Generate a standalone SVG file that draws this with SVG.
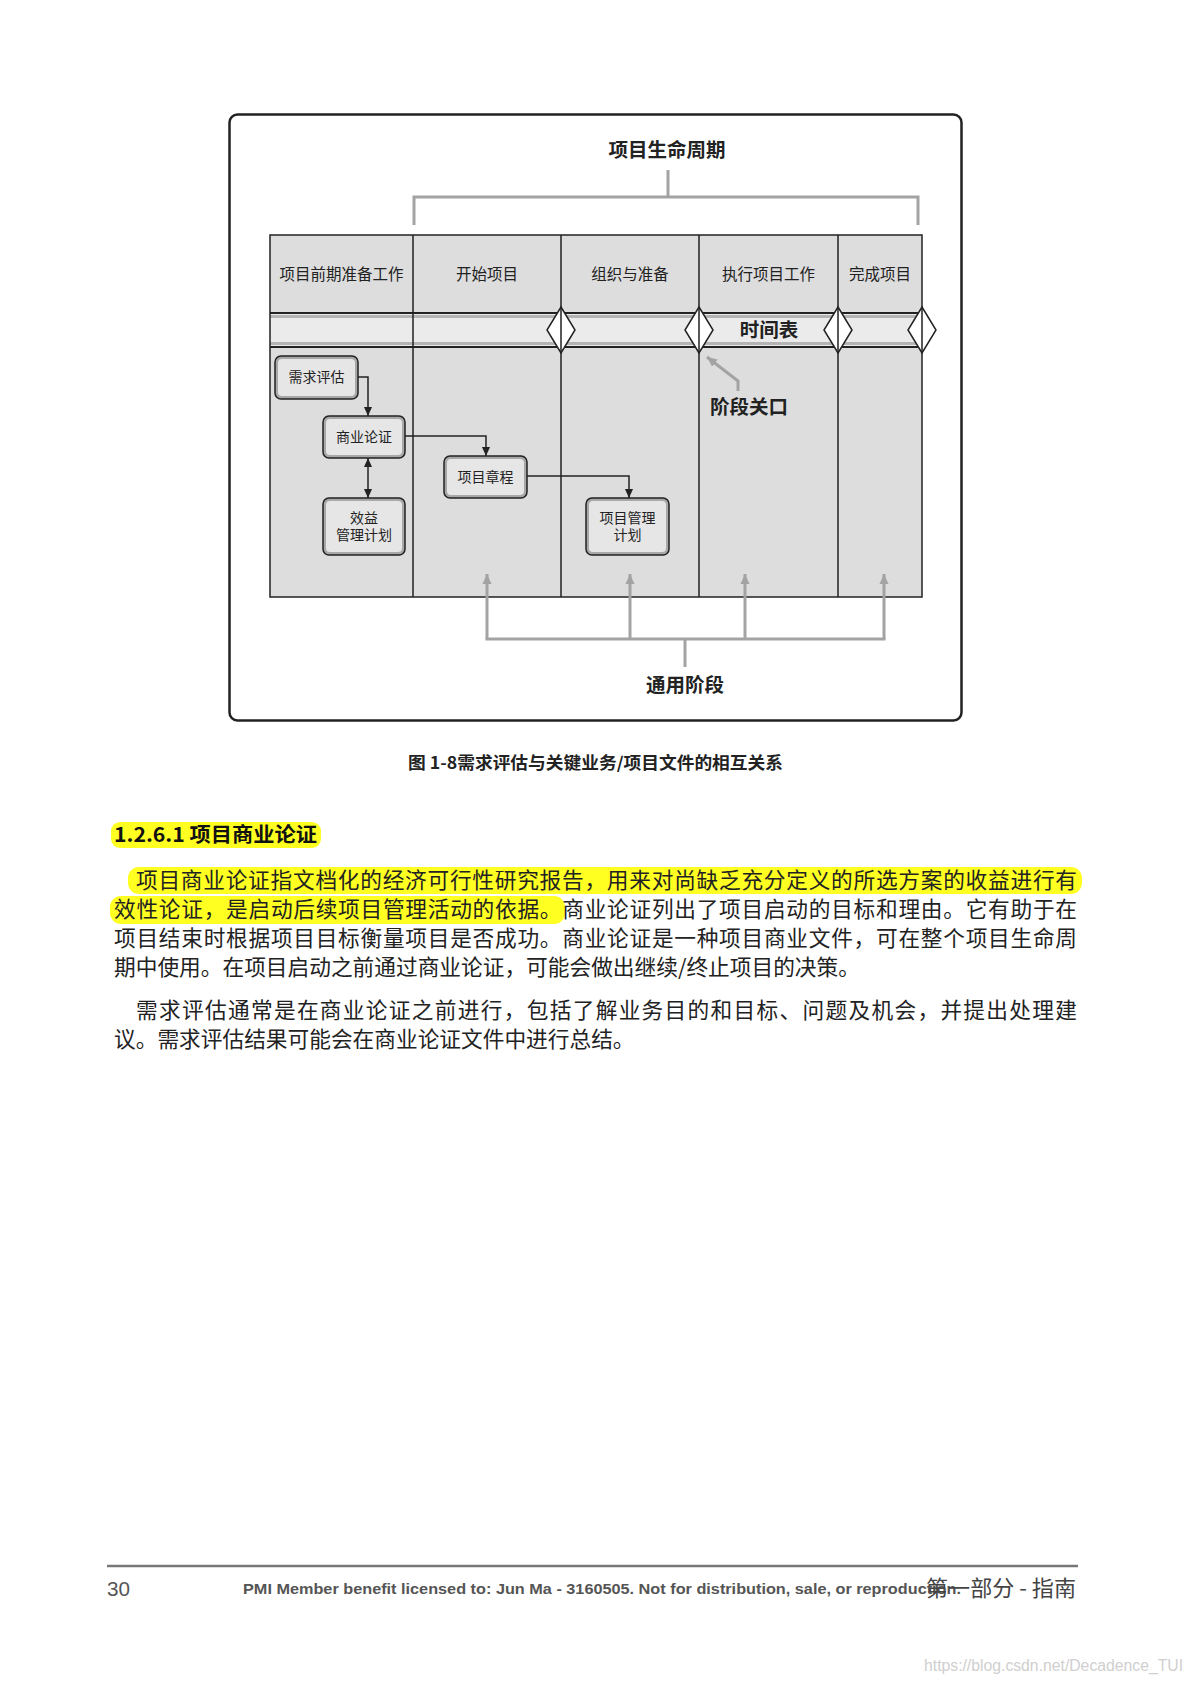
<svg xmlns="http://www.w3.org/2000/svg" width="1192" height="1684" viewBox="0 0 1192 1684">
<style>
.cjk{font-family:"Noto Sans CJK SC","Noto Sans",sans-serif}
.hdr{font-family:"Noto Sans CJK SC",sans-serif;font-size:15.5px;fill:#222;text-anchor:middle}
.lbl{font-family:"Noto Sans CJK SC",sans-serif;font-size:19.5px;font-weight:bold;fill:#222;text-anchor:middle}
.ntx{font-family:"Noto Sans CJK SC",sans-serif;font-size:14px;fill:#222;text-anchor:middle}
.body{font-family:"Noto Sans CJK SC",sans-serif;font-size:21.7px;fill:#222}
.grid{stroke:#222;stroke-width:1.5;fill:none}
.gray{stroke:#a3a3a3;stroke-width:3;fill:none}
.conn{stroke:#222;stroke-width:1.5;fill:none}
.dia{fill:#fff;stroke:#222;stroke-width:1.5}
.nout{fill:#a8a8a8;stroke:#222;stroke-width:1.5}
.nin{fill:#e6e6e6;stroke:none}
.hl{fill:#ffff22}
</style>
<defs>
<marker id="ah" markerUnits="userSpaceOnUse" markerWidth="10" markerHeight="10" refX="9" refY="5" orient="auto-start-reverse" viewBox="0 0 10 10">
<path d="M0,1 L9,5 L0,9 Z" fill="#222"/>
</marker>
<marker id="gh" markerUnits="userSpaceOnUse" markerWidth="12" markerHeight="12" refX="10" refY="6" orient="auto" viewBox="0 0 12 12">
<path d="M0,1.5 L10,6 L0,10.5 Z" fill="#a3a3a3"/>
</marker>
</defs>
<rect width="1192" height="1684" fill="#fff"/>

<!-- outer frame -->
<rect x="229.5" y="114.5" width="732" height="606" rx="8" fill="#fff" stroke="#222" stroke-width="2.5"/>

<!-- title -->
<g id="title">
<text class="lbl" x="667" y="157" font-size="20">项目生命周期</text>
<path class="gray" d="M668 170 V197 M414 225 V197 H918 V225"/>
</g>

<!-- table -->
<g id="table">
<rect x="270" y="235" width="652" height="362" fill="#dddddd"/>
<rect x="270" y="313" width="652" height="34" fill="#ebebeb"/>
<line x1="270" y1="316.5" x2="922" y2="316.5" stroke="#b4b4b4" stroke-width="3"/>
<line x1="270" y1="343.5" x2="922" y2="343.5" stroke="#b4b4b4" stroke-width="3"/>
<line x1="270" y1="313" x2="922" y2="313" stroke="#222" stroke-width="2"/>
<line x1="270" y1="347" x2="922" y2="347" stroke="#222" stroke-width="2"/>
<rect class="grid" x="270" y="235" width="652" height="362"/>
<path class="grid" d="M413 235 V597 M561 235 V597 M699 235 V597 M838 235 V597"/>
<text class="hdr" x="341.5" y="280">项目前期准备工作</text>
<text class="hdr" x="487" y="280">开始项目</text>
<text class="hdr" x="630" y="280">组织与准备</text>
<text class="hdr" x="768.5" y="280">执行项目工作</text>
<text class="hdr" x="880" y="280">完成项目</text>
<text class="lbl" x="769" y="337">时间表</text>
</g>

<!-- phase gates -->
<g id="gates">
<path class="dia" d="M561 307 L575 330 L561 353 L547 330 Z"/>
<path class="dia" d="M699 307 L713 330 L699 353 L685 330 Z"/>
<path class="dia" d="M838 307 L852 330 L838 353 L824 330 Z"/>
<path class="dia" d="M922 307 L936 330 L922 353 L908 330 Z"/>
<path class="grid" d="M561 307 V353 M699 307 V353 M838 307 V353 M922 307 V353"/>
</g>

<g id="gate-label">
<path class="gray" d="M738 391 V381 L707 357" marker-end="url(#gh)"/>
<text class="lbl" x="749" y="414">阶段关口</text>
</g>

<!-- nodes -->
<g id="n-needs">
<rect class="nout" x="275" y="356" width="83" height="43" rx="6"/>
<rect class="nin" x="278" y="359" width="77" height="37" rx="4"/>
<text class="ntx" x="316.5" y="382">需求评估</text>
</g>
<g id="n-bizcase">
<rect class="nout" x="323" y="416" width="82" height="42" rx="6"/>
<rect class="nin" x="326" y="419" width="76" height="36" rx="4"/>
<text class="ntx" x="364" y="442">商业论证</text>
</g>
<g id="n-benefit">
<rect class="nout" x="323" y="498" width="82" height="57" rx="6"/>
<rect class="nin" x="326" y="501" width="76" height="51" rx="4"/>
<text class="ntx" x="364" y="523">效益</text>
<text class="ntx" x="364" y="540">管理计划</text>
</g>
<g id="n-charter">
<rect class="nout" x="444" y="456" width="83" height="42" rx="6"/>
<rect class="nin" x="447" y="459" width="77" height="36" rx="4"/>
<text class="ntx" x="485.5" y="482">项目章程</text>
</g>
<g id="n-pmplan">
<rect class="nout" x="586" y="498" width="83" height="57" rx="6"/>
<rect class="nin" x="589" y="501" width="77" height="51" rx="4"/>
<text class="ntx" x="627.5" y="523">项目管理</text>
<text class="ntx" x="627.5" y="540">计划</text>
</g>

<!-- connectors -->
<g id="connectors">
<path class="conn" d="M358 377 H368 V416" marker-end="url(#ah)"/>
<path class="conn" d="M405 436 H486 V456" marker-end="url(#ah)"/>
<path class="conn" d="M368 458 V498" marker-start="url(#ah)" marker-end="url(#ah)"/>
<path class="conn" d="M527 476 H629 V498" marker-end="url(#ah)"/>
</g>

<!-- generic phases -->
<g id="generic">
<path class="gray" d="M487 639 V574" marker-end="url(#gh)"/>
<path class="gray" d="M630 639 V574" marker-end="url(#gh)"/>
<path class="gray" d="M745 639 V574" marker-end="url(#gh)"/>
<path class="gray" d="M884 639 V574" marker-end="url(#gh)"/>
<path class="gray" d="M485.5 639 H885.5 M685 639 V667"/>
<text class="lbl" x="685" y="692" font-size="20">通用阶段</text>
</g>

<!-- caption -->
<text class="cjk" x="408" y="769" font-size="16.5" font-weight="bold" fill="#222" textLength="375" lengthAdjust="spacingAndGlyphs">图 1-8需求评估与关键业务/项目文件的相互关系</text>

<!-- section -->
<rect class="hl" x="111" y="822" width="210" height="26" rx="9"/>
<text class="cjk" x="114" y="842" font-size="20" font-weight="bold" fill="#111" textLength="203" lengthAdjust="spacingAndGlyphs">1.2.6.1 项目商业论证</text>

<rect class="hl" x="128" y="867" width="954" height="27" rx="11"/>
<rect class="hl" x="110" y="896" width="455" height="28" rx="11"/>

<text class="body" x="136" y="888" textLength="941" lengthAdjust="spacing">项目商业论证指文档化的经济可行性研究报告，用来对尚缺乏充分定义的所选方案的收益进行有</text>
<text class="body" x="114" y="917" textLength="963" lengthAdjust="spacing">效性论证，是启动后续项目管理活动的依据。商业论证列出了项目启动的目标和理由。它有助于在</text>
<text class="body" x="114" y="946" textLength="963" lengthAdjust="spacing">项目结束时根据项目目标衡量项目是否成功。商业论证是一种项目商业文件，可在整个项目生命周</text>
<text class="body" x="114" y="975">期中使用。在项目启动之前通过商业论证，可能会做出继续/终止项目的决策。</text>

<text class="body" x="136" y="1018" textLength="941" lengthAdjust="spacing">需求评估通常是在商业论证之前进行，包括了解业务目的和目标、问题及机会，并提出处理建</text>
<text class="body" x="114" y="1047">议。需求评估结果可能会在商业论证文件中进行总结。</text>

<!-- footer -->
<line x1="107" y1="1566" x2="1078" y2="1566" stroke="#777" stroke-width="2.5"/>
<text x="107" y="1596" font-family="Liberation Sans, sans-serif" font-size="20" fill="#555" textLength="23" lengthAdjust="spacingAndGlyphs">30</text>
<text x="243" y="1594" font-family="Liberation Sans, sans-serif" font-size="15.5" font-weight="bold" fill="#555" textLength="718" lengthAdjust="spacingAndGlyphs">PMI Member benefit licensed to: Jun Ma - 3160505. Not for distribution, sale, or reproduction.</text>
<text class="cjk" x="926" y="1596" font-size="22" fill="#444" textLength="150" lengthAdjust="spacingAndGlyphs">第一部分 - 指南</text>
<text x="924" y="1671" font-family="Liberation Sans, sans-serif" font-size="16" fill="#cfcfcf" textLength="259" lengthAdjust="spacingAndGlyphs">https://blog.csdn.net/Decadence_TUI</text>
</svg>
